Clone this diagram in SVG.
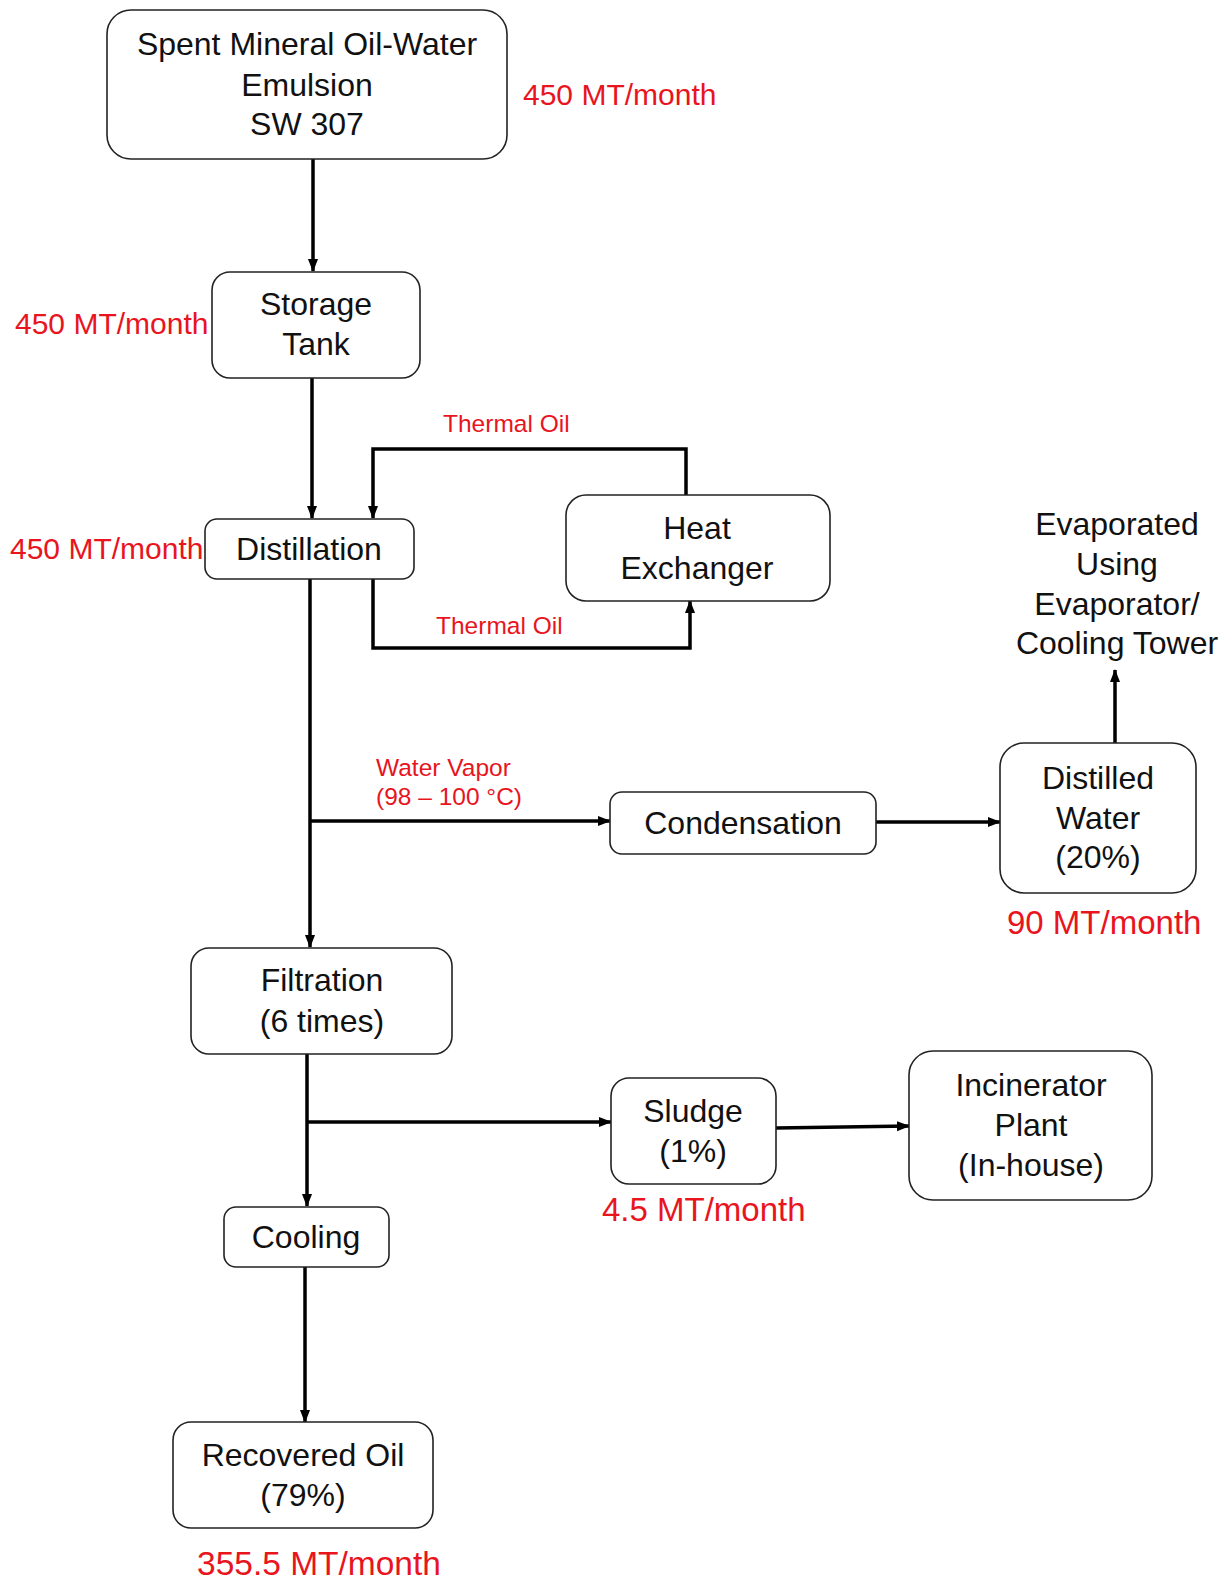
<svg xmlns="http://www.w3.org/2000/svg" width="1232" height="1580" viewBox="0 0 1232 1580">
<style>
.box{fill:#fff;stroke:#222;stroke-width:1.6}
.t{font-family:"Liberation Sans",Arial,sans-serif;font-size:32px;fill:#111;text-anchor:middle}
.r{font-family:"Liberation Sans",Arial,sans-serif;font-size:30px;fill:#e8141e}
.rs{font-family:"Liberation Sans",Arial,sans-serif;font-size:24.5px;fill:#e8141e}
.c{fill:none;stroke:#000;stroke-width:3.5}
</style>
<defs>
<marker id="ah" markerUnits="userSpaceOnUse" markerWidth="14" markerHeight="14" viewBox="0 0 14 14" refX="12" refY="7" orient="auto">
<path d="M0,2 L13,7 L0,12 Z" fill="#000"/>
</marker>
</defs>
<rect width="1232" height="1580" fill="#fff"/>
<g id="connectors">
<line class="c" x1="313" y1="159" x2="313" y2="271" marker-end="url(#ah)"/>
<line class="c" x1="312" y1="378" x2="312" y2="518" marker-end="url(#ah)"/>
<polyline class="c" points="686,495 686,449 373,449 373,518" marker-end="url(#ah)"/>
<polyline class="c" points="373,579 373,648 690,648 690,601" marker-end="url(#ah)"/>
<line class="c" x1="310" y1="579" x2="310" y2="947" marker-end="url(#ah)"/>
<line class="c" x1="310" y1="821" x2="610" y2="821" marker-end="url(#ah)"/>
<line class="c" x1="876" y1="822" x2="1000" y2="822" marker-end="url(#ah)"/>
<line class="c" x1="1115" y1="743" x2="1115" y2="670" marker-end="url(#ah)"/>
<line class="c" x1="307" y1="1054" x2="307" y2="1206" marker-end="url(#ah)"/>
<line class="c" x1="307" y1="1122" x2="611" y2="1122" marker-end="url(#ah)"/>
<line class="c" x1="776" y1="1128" x2="909" y2="1126" marker-end="url(#ah)"/>
<line class="c" x1="305" y1="1267" x2="305" y2="1422" marker-end="url(#ah)"/>
</g>
<g id="n_source">
<rect class="box" x="107" y="10" width="400" height="149" rx="24"/>
<text class="t" x="307" y="55">Spent Mineral Oil-Water</text>
<text class="t" x="307" y="96">Emulsion</text>
<text class="t" x="307" y="135">SW 307</text>
</g>
<g id="n_storage">
<rect class="box" x="212" y="272" width="208" height="106" rx="18"/>
<text class="t" x="316" y="315">Storage</text>
<text class="t" x="316" y="355">Tank</text>
</g>
<g id="n_distillation">
<rect class="box" x="205" y="519" width="209" height="60" rx="12"/>
<text class="t" x="309" y="560">Distillation</text>
</g>
<g id="n_heatex">
<rect class="box" x="566" y="495" width="264" height="106" rx="20"/>
<text class="t" x="697" y="539">Heat</text>
<text class="t" x="697" y="579">Exchanger</text>
</g>
<g id="n_condensation">
<rect class="box" x="610" y="792" width="266" height="62" rx="12"/>
<text class="t" x="743" y="834">Condensation</text>
</g>
<g id="n_distilled">
<rect class="box" x="1000" y="743" width="196" height="150" rx="24"/>
<text class="t" x="1098" y="789">Distilled</text>
<text class="t" x="1098" y="829">Water</text>
<text class="t" x="1098" y="868">(20%)</text>
</g>
<g id="n_evaporated">
<text class="t" x="1117" y="535">Evaporated</text>
<text class="t" x="1117" y="575">Using</text>
<text class="t" x="1117" y="615">Evaporator/</text>
<text class="t" x="1117" y="654">Cooling Tower</text>
</g>
<g id="n_filtration">
<rect class="box" x="191" y="948" width="261" height="106" rx="18"/>
<text class="t" x="322" y="991">Filtration</text>
<text class="t" x="322" y="1032">(6 times)</text>
</g>
<g id="n_sludge">
<rect class="box" x="611" y="1078" width="165" height="106" rx="18"/>
<text class="t" x="693" y="1122">Sludge</text>
<text class="t" x="693" y="1162">(1%)</text>
</g>
<g id="n_incinerator">
<rect class="box" x="909" y="1051" width="243" height="149" rx="24"/>
<text class="t" x="1031" y="1096">Incinerator</text>
<text class="t" x="1031" y="1136">Plant</text>
<text class="t" x="1031" y="1176">(In-house)</text>
</g>
<g id="n_cooling">
<rect class="box" x="224" y="1207" width="165" height="60" rx="12"/>
<text class="t" x="306" y="1248">Cooling</text>
</g>
<g id="n_recovered">
<rect class="box" x="173" y="1422" width="260" height="106" rx="18"/>
<text class="t" x="303" y="1466">Recovered Oil</text>
<text class="t" x="303" y="1506">(79%)</text>
</g>
<g id="labels">
<text class="r" x="523" y="105">450 MT/month</text>
<text class="r" x="15" y="334">450 MT/month</text>
<text class="r" x="10" y="559">450 MT/month</text>
<text class="rs" x="443" y="432">Thermal Oil</text>
<text class="rs" x="436" y="634">Thermal Oil</text>
<text class="rs" x="376" y="776">Water Vapor</text>
<text class="rs" x="376" y="805">(98 – 100 °C)</text>
<text class="r" x="1007" y="934" style="font-size:33px">90 MT/month</text>
<text class="r" x="602" y="1221" style="font-size:33px">4.5 MT/month</text>
<text class="r" x="197" y="1575" style="font-size:33.5px">355.5 MT/month</text>
</g>
</svg>
